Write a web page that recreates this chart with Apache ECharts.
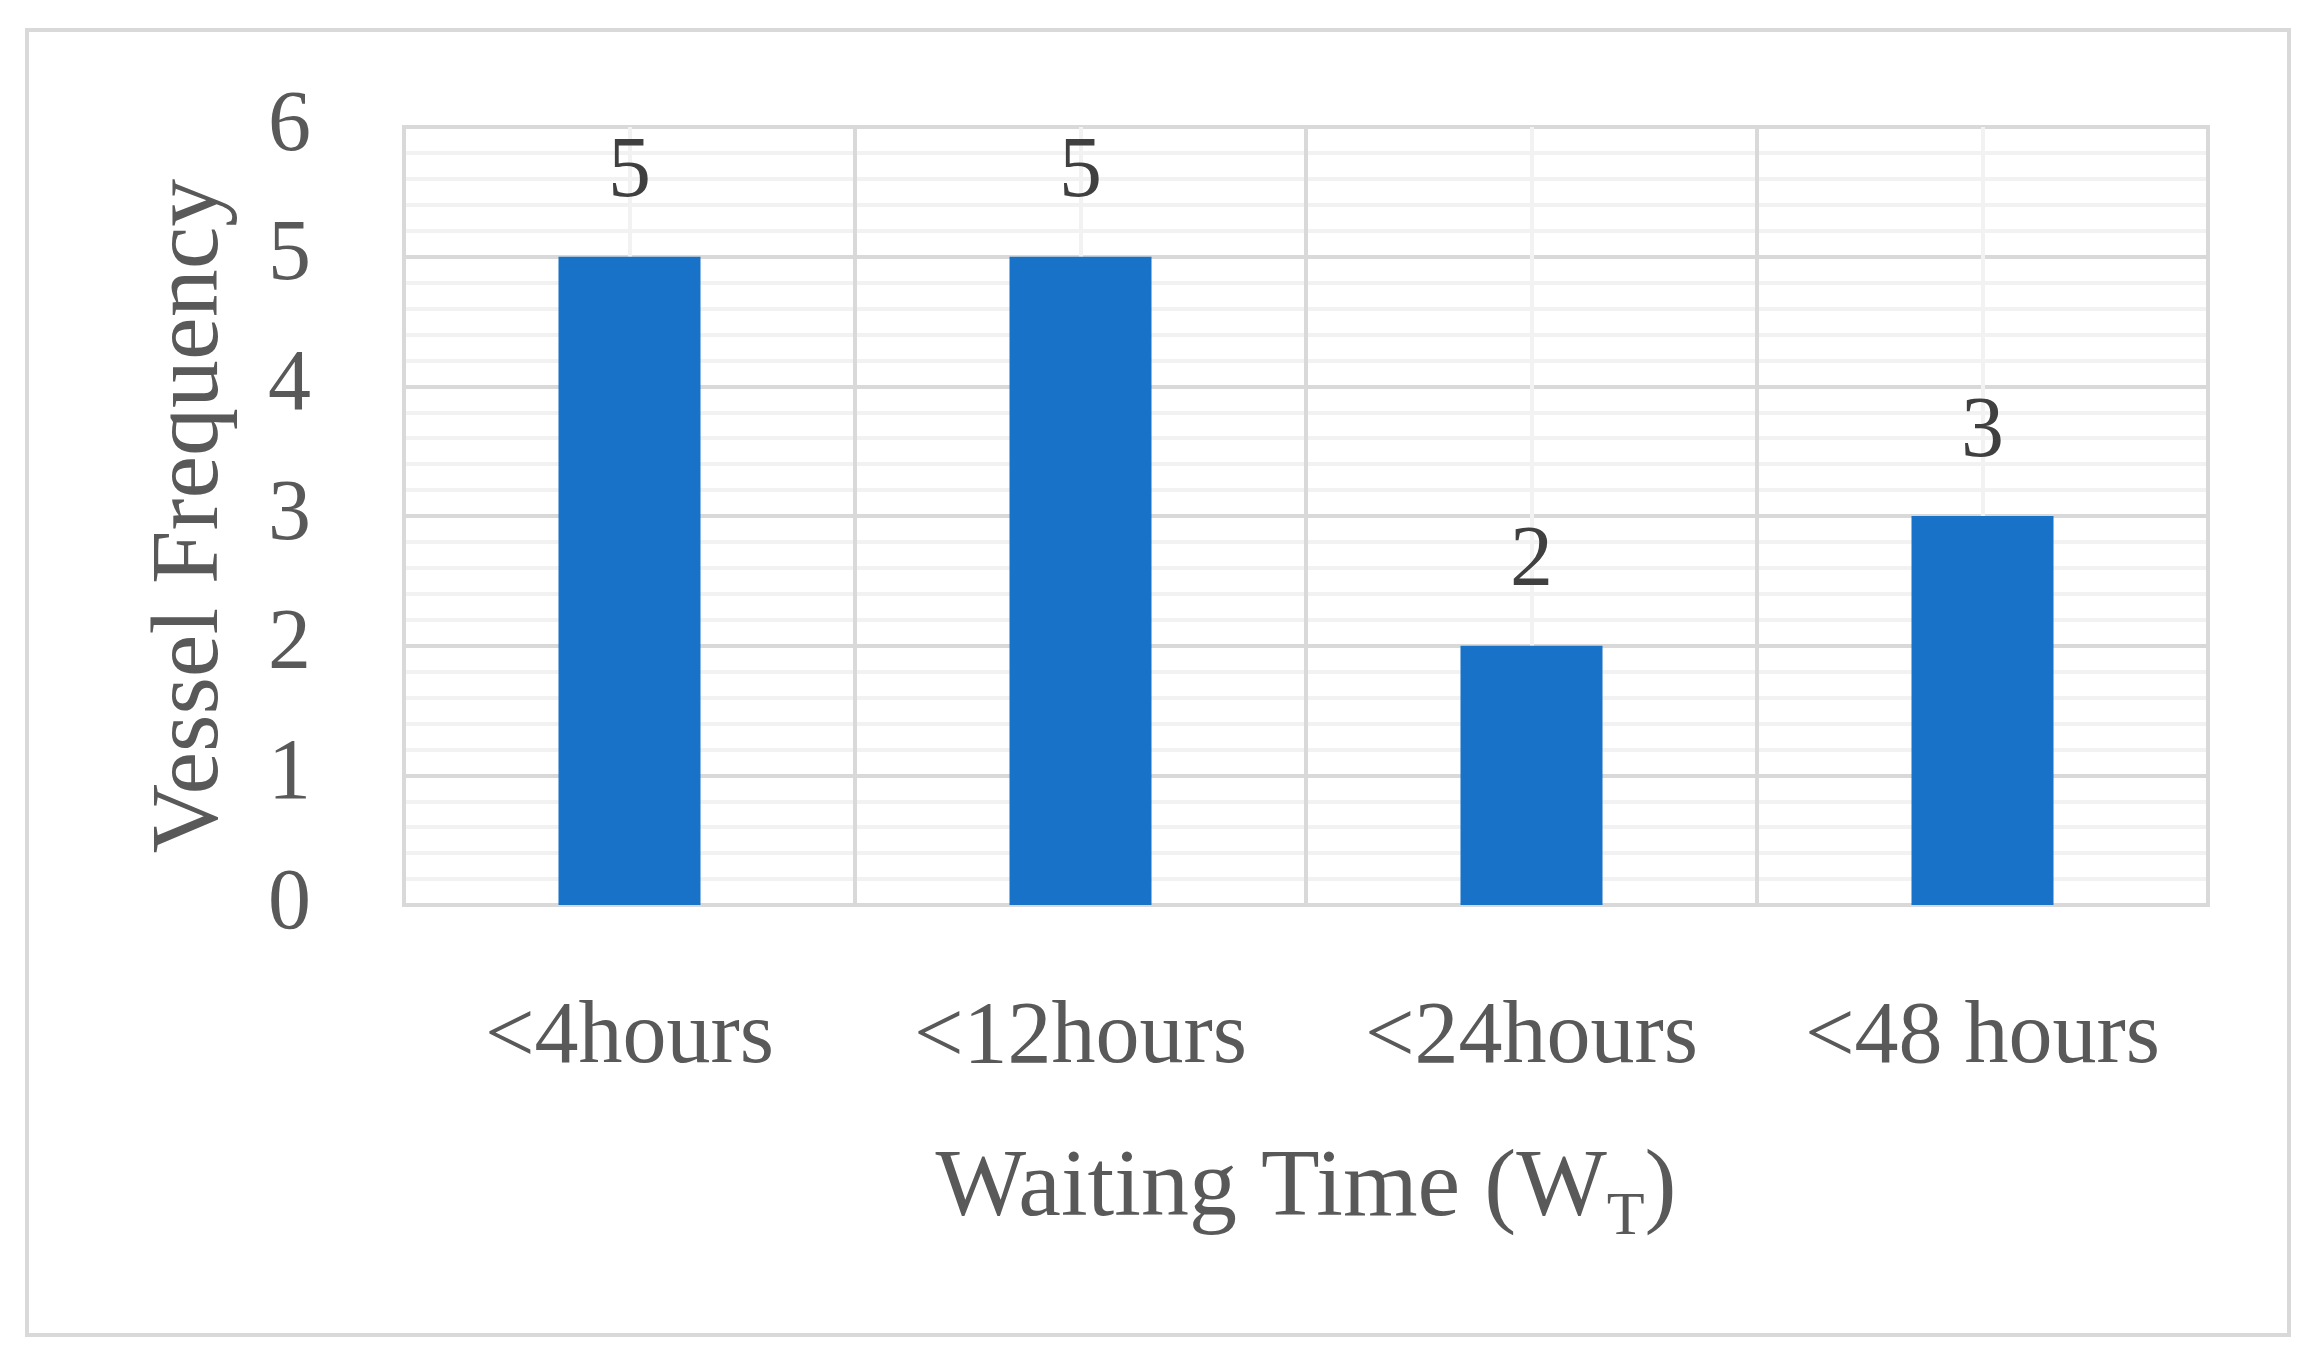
<!DOCTYPE html>
<html>
<head>
<meta charset="utf-8">
<script src="https://cdn.jsdelivr.net/npm/echarts@6/dist/echarts.min.js"></script>
<style>
html,body{margin:0;padding:0;background:#fff;}
#chart{width:2319px;height:1359px;}
</style>
</head>
<body>
<div id="chart"></div>
<script>
const categories = ['<4hours', '<12hours', '<24hours', '<48 hours'];
const vesselFrequency = [5, 5, 2, 3];
const yTicks = { min: 0, max: 6, interval: 1 };
const xAxisTitle = 'Waiting Time (W{sub|T})';
const yAxisTitle = 'Vessel Frequency';

const FONT = '"Liberation Serif", "Times New Roman", serif';
const chart = echarts.init(document.getElementById('chart'));
chart.setOption({
  backgroundColor: '#ffffff',
  animation: false,
  graphic: [{
    type: 'rect',
    shape: { x: 27, y: 30, width: 2262, height: 1305 },
    style: { fill: 'none', stroke: '#d9d9d9', lineWidth: 4 },
    silent: true, z: -10
  }],
  grid: {
    left: 404, right: 111, top: 127, bottom: 454,
    show: true, borderColor: '#d9d9d9', borderWidth: 4, backgroundColor: 'transparent'
  },
  xAxis: {
    type: 'category',
    data: categories,
    boundaryGap: true,
    axisLine: { show: false },
    axisTick: { show: false },
    splitLine: { show: true, interval: 0, lineStyle: { color: '#d9d9d9', width: 4 } },
    axisLabel: { color: '#595959', fontFamily: FONT, fontSize: 88, margin: 90, interval: 0 },
    name: xAxisTitle,
    nameLocation: 'middle',
    nameGap: 226,
    nameTextStyle: {
      color: '#595959', fontFamily: FONT, fontSize: 96,
      rich: { sub: { fontSize: 62, fontFamily: FONT, color: '#595959', padding: [56, 0, 0, 0] } }
    }
  },
  yAxis: {
    type: 'value',
    min: yTicks.min, max: yTicks.max, interval: yTicks.interval,
    axisLine: { show: false },
    axisTick: { show: false },
    axisLabel: { color: '#595959', fontFamily: FONT, fontSize: 86, margin: 93 },
    splitLine: { show: true, lineStyle: { color: '#d9d9d9', width: 4 } },
    minorTick: { show: false, splitNumber: 5 },
    minorSplitLine: { show: true, lineStyle: { color: '#f2f2f2', width: 4 } },
    name: yAxisTitle,
    nameLocation: 'middle',
    nameGap: 164,
    nameTextStyle: { color: '#595959', fontFamily: FONT, fontSize: 96 }
  },
  series: [
    {
      type: 'bar',
      data: vesselFrequency,
      z: 3,
      barWidth: 142,
      itemStyle: { color: '#1873c8' },
      label: {
        show: true, position: 'top', distance: 40,
        color: '#404040', fontFamily: FONT, fontSize: 86
      },
      markLine: {
        z: 1,
        symbol: 'none',
        silent: true,
        label: { show: false },
        lineStyle: { color: '#f2f2f2', width: 4, type: 'solid' },
        data: categories.map(c => ({ xAxis: c }))
      }
    }
  ]
});
</script>
</body>
</html>
